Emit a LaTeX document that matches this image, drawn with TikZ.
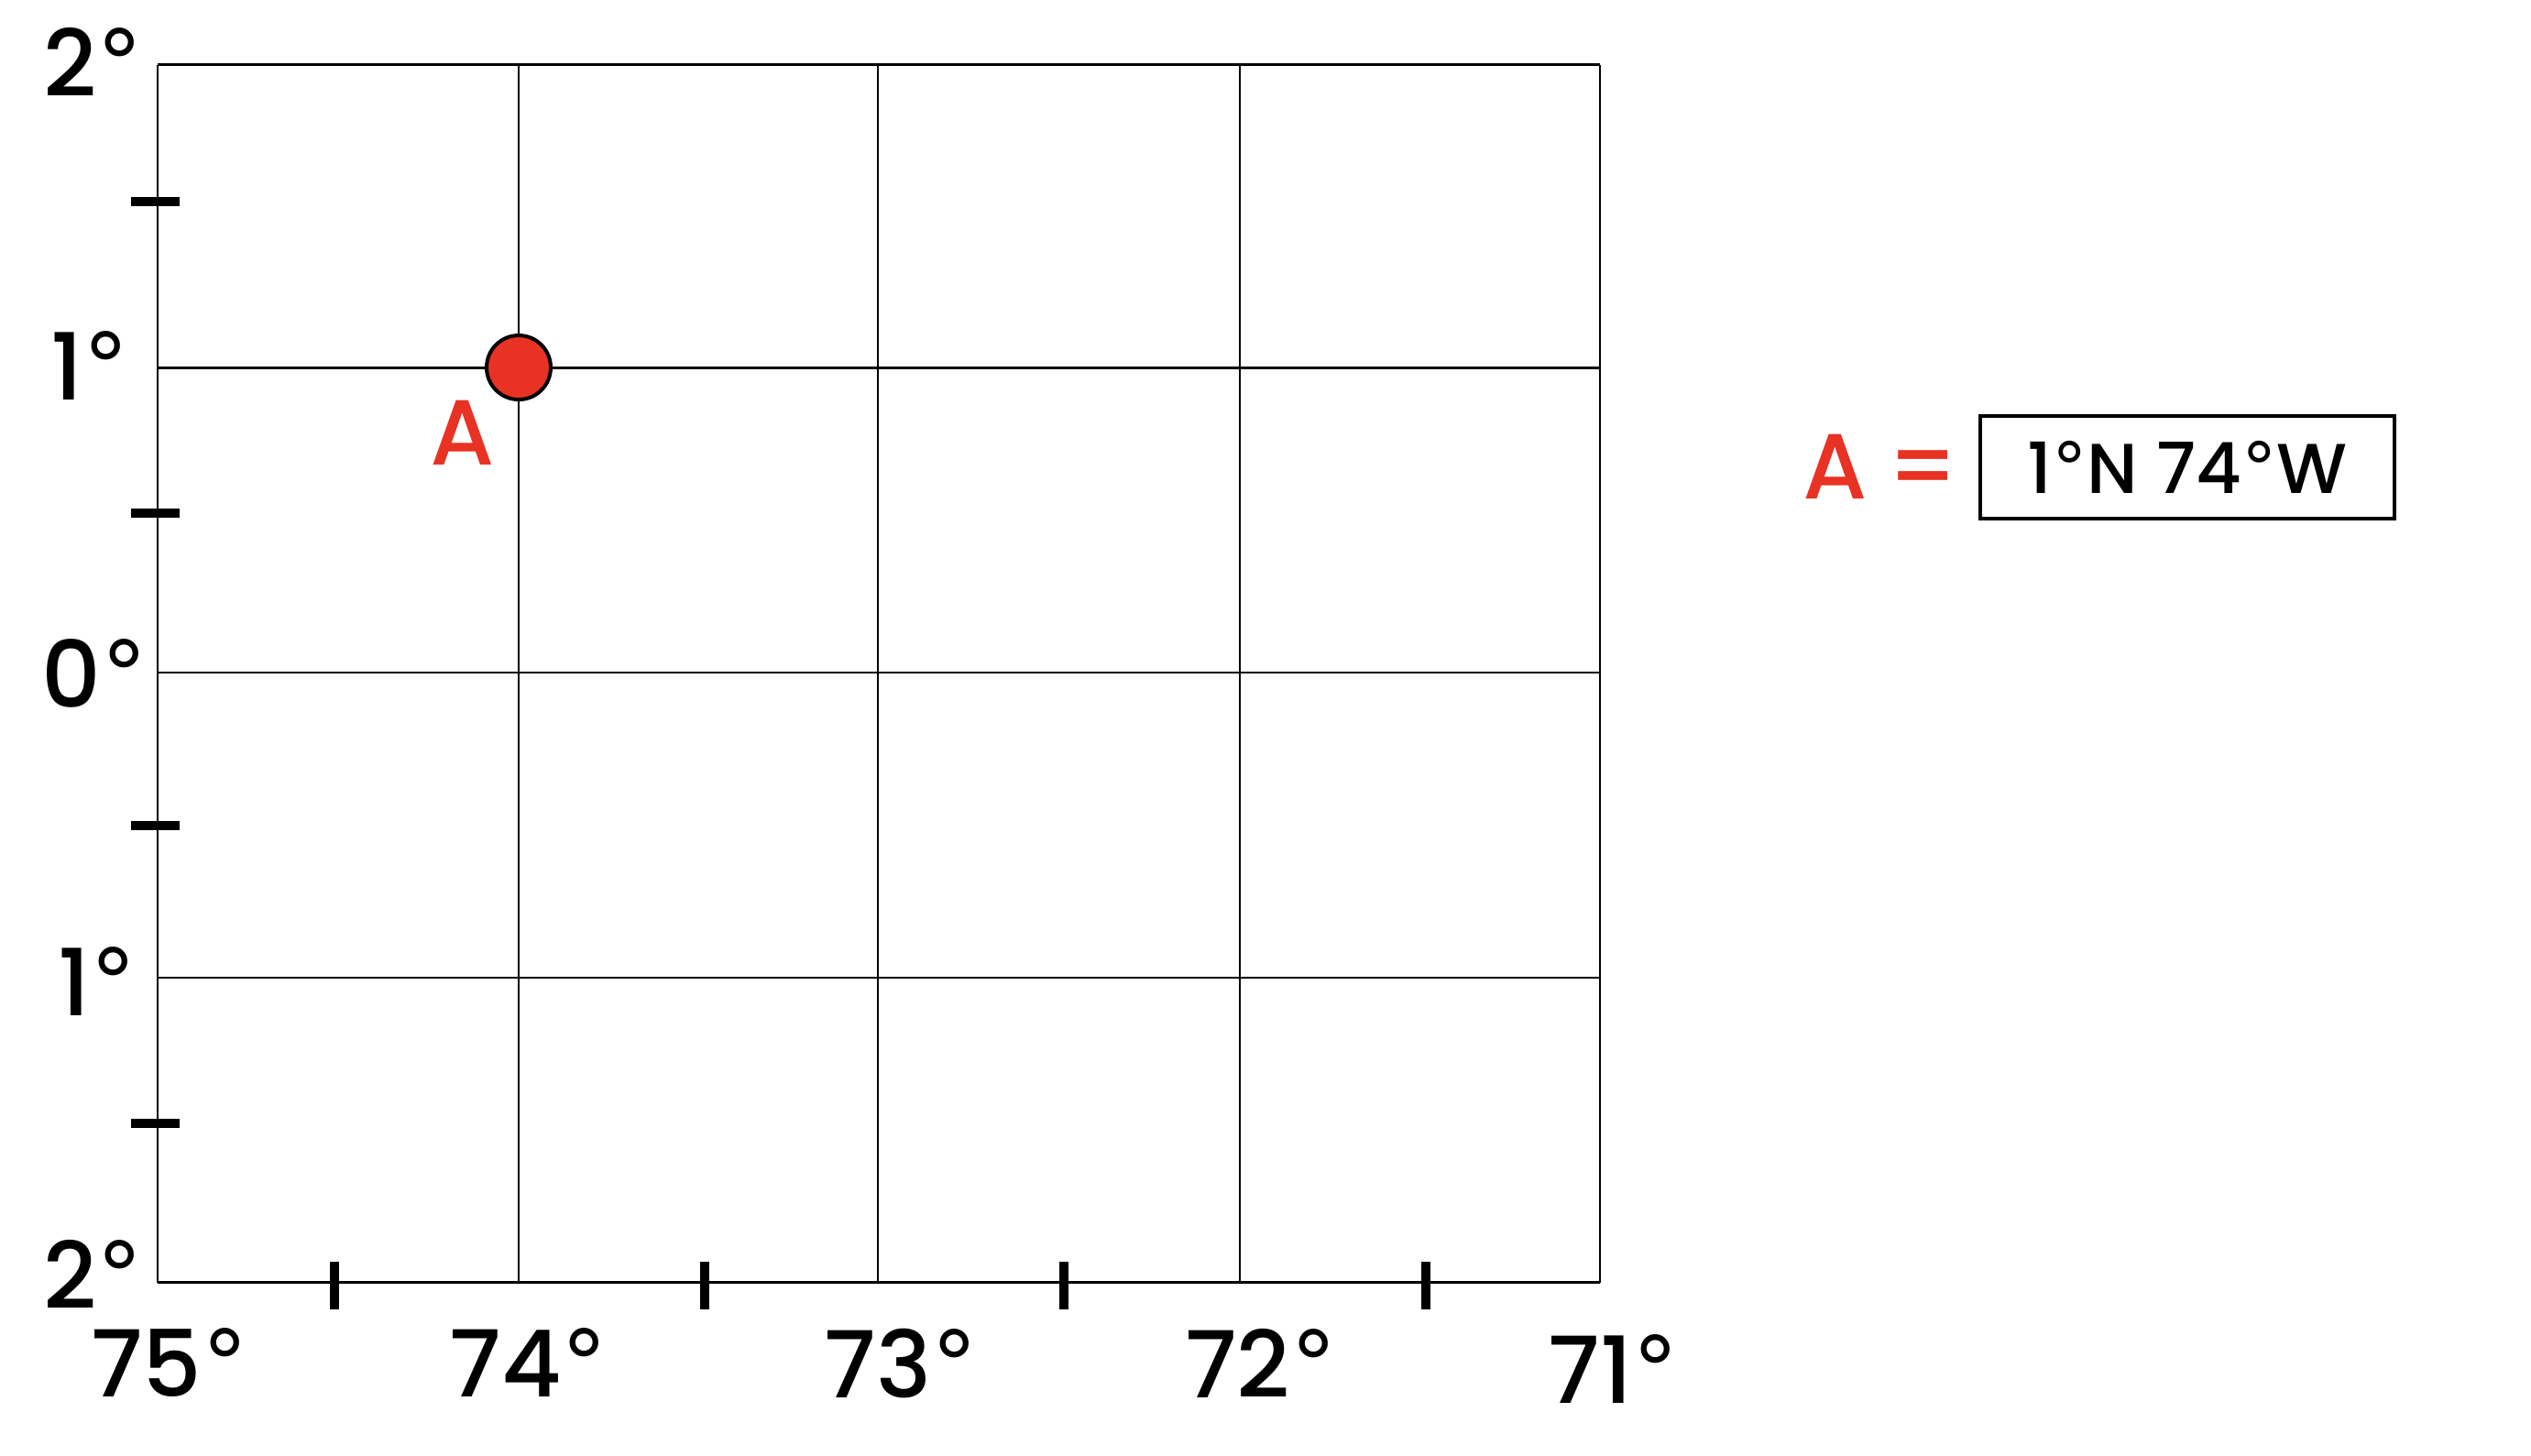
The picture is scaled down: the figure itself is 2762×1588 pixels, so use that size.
\documentclass[tikz,border=0pt]{standalone}
\usepackage{fontspec}
\setmainfont{Poppins}[UprightFont=* Medium]
\newfontfamily\degfont{DejaVu Sans}
\newcommand\dgr{{\degfont °}}
\definecolor{mapred}{RGB}{232,50,35}
\tikzset{
  gridline/.style={line width=0.28pt, black},
  tickmark/.style={line width=1pt, black},
  deglabel/.style={anchor=base, inner sep=0pt, font=\fontsize{10.1}{12}\selectfont},
  redlabel/.style={anchor=base, inner sep=0pt, text=mapred, font=\fontsize{10.1}{12}\selectfont},
  pointdot/.style={circle, fill=mapred, draw=black, line width=0.4pt, minimum size=7pt, inner sep=0pt},
  answerbox/.style={draw=black, line width=0.4pt, minimum width=45.2pt, minimum height=11.2pt, inner sep=0pt, font=\fontsize{7.7}{9}\selectfont}
}
\begin{document}
\begin{tikzpicture}[x=0.1pt,y=-0.1pt]
\useasboundingbox (0,0) rectangle (2762,1588);
% grid
\foreach \xx in {172,566,958,1353,1746} \draw[gridline] (\xx,70.5) -- (\xx,1399.5);
\foreach \yy in {70.5,401.5,734,1067,1399.5} \draw[gridline] (172,\yy) -- (1746,\yy);
% ticks on left side
\foreach \yy in {220,560,901,1226} \draw[tickmark] (143,\yy) -- (196,\yy);
% ticks on bottom
\foreach \xx in {365,769,1161,1556} \draw[tickmark] (\xx,1377) -- (\xx,1429);
% left labels
\node[deglabel] (l2n) at (102,105) {2\dgr};
\node[deglabel] (l1n) at (98,436) {1\dgr};
\node[deglabel] (l0) at (103,772) {0\dgr};
\node[deglabel] (l1s) at (106,1108) {1\dgr};
\node[deglabel] (l2s) at (102,1428) {2\dgr};
% bottom labels
\node[deglabel] (b75) at (185,1524) {75\dgr};
\node[deglabel] (b74) at (577,1524) {74\dgr};
\node[deglabel] (b73) at (983,1525) {73\dgr};
\node[deglabel] (b72) at (1376,1525) {72\dgr};
\node[deglabel] (b71) at (1761,1531) {71\dgr};
% point A
\node[pointdot] (ptA) at (566,401) {};
\node[redlabel] (labA) at (505,507) {A};
% answer
\node[redlabel] (ansA) at (2003,544) {A};
\node[redlabel] (ansEq) at (2099,544) {=};
\node[answerbox] (ansBox) at (2387,510) {1\dgr N 74\dgr W};
\end{tikzpicture}
\end{document}
